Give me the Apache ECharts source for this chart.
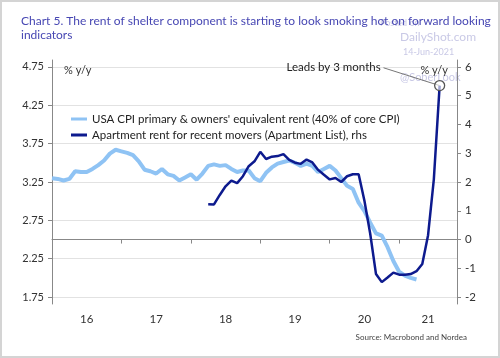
<!DOCTYPE html>
<html><head><meta charset="utf-8">
<script src="https://cdn.jsdelivr.net/npm/echarts@6/dist/echarts.min.js"></script>
<style>html,body{margin:0;padding:0;background:#fff}#c{width:500px;height:358px}</style>
</head><body><div id="c"></div>
<script>
// months since Jan 2016
const startYear = 2016;
const yearTickMonths = [0, 12, 24, 36, 48, 60];
const yearLabelMonths = [6, 18, 30, 42, 54, 65];
const leftTicks = [1.75, 2.25, 2.75, 3.25, 3.75, 4.25, 4.75];
const rightTicks = [-2, -1, 0, 1, 2, 3, 4, 5, 6];

const cpiStart = 0;
const cpiRent = [3.30, 3.29, 3.27, 3.29, 3.39, 3.38, 3.38, 3.42, 3.47, 3.53, 3.62, 3.67,
  3.65, 3.63, 3.60, 3.52, 3.41, 3.39, 3.36, 3.42, 3.35, 3.33, 3.27, 3.31,
  3.35, 3.28, 3.36, 3.46, 3.48, 3.46, 3.47, 3.42, 3.38, 3.40, 3.40, 3.30,
  3.26, 3.37, 3.44, 3.49, 3.51, 3.53, 3.50, 3.46, 3.49, 3.46, 3.38, 3.42,
  3.46, 3.40, 3.30, 3.20, 3.16, 2.98, 2.87, 2.72, 2.58, 2.55, 2.40, 2.22,
  2.08, 2.03, 2.00, 1.98];

const aptStart = 27;
const aptRent = [1.23, 1.22, 1.55, 1.85, 2.05, 1.96, 2.20, 2.55, 2.72,
  3.05, 2.80, 2.88, 2.90, 2.97, 2.77, 2.67, 2.63, 2.78, 2.68, 2.42, 2.25,
  2.09, 2.14, 2.00, 2.20, 2.27, 2.27, 1.35, 0.20, -1.20, -1.48, -1.32, -1.15,
  -1.22, -1.22, -1.20, -1.10, -0.85, 0.15, 2.10, 5.35];

const cpiName = "USA CPI primary & owners' equivalent rent (40% of core CPI)";
const aptName = "Apartment rent for recent movers (Apartment List), rhs";

const cpiData = cpiRent.map((v, i) => [cpiStart + i, v]);
const aptData = aptRent.map((v, i) => [aptStart + i, v]);
const lastApt = aptData[aptData.length - 1];

const FONT = 'Lato';
const chart = echarts.init(document.getElementById('c'), null, {renderer: 'canvas'});
chart.setOption({
  backgroundColor: '#fff',
  animation: false,
  textStyle: {fontFamily: FONT},
  title: [
    {text: 'Chart 5. The rent of shelter component is starting to look smoking hot on forward looking\nindicators',
     left: 16, top: 9, textStyle: {fontFamily: FONT, fontSize: 12, fontWeight: 'normal', color: '#4747b3', lineHeight: 14}},
    {text: 'Source: Macrobond and Nordea', right: 28, top: 328,
     textStyle: {fontFamily: FONT, fontSize: 8, fontWeight: 'normal', color: '#444'}}
  ],
  graphic: [
    {type: 'rect', silent: true, shape: {x: 1, y: 1, width: 498, height: 356},
     style: {fill: 'none', stroke: '#d4d4d4', lineWidth: 2}},
    {type: 'text', left: 380, top: 19, silent: true, style: {text: 'Posted on', fill: '#c9c9e6', font: '9px Lato'}},
    {type: 'text', left: 400, top: 31, silent: true, style: {text: 'DailyShot.com', fill: '#c9c9e6', font: '12px Lato'}},
    {type: 'text', left: 403, top: 48, silent: true, style: {text: '14-Jun-2021', fill: '#c9c9e6', font: '9px Lato'}},
    {type: 'text', left: 400, top: 72, silent: true, z: 0, style: {text: '@SoberLook', fill: '#c9c9e6', font: '11px Lato'}}
  ],
  legend: {
    orient: 'vertical', left: 66, top: 108, itemWidth: 16, itemHeight: 3, itemGap: 4,
    icon: 'rect', textStyle: {fontFamily: FONT, fontSize: 11.5, color: '#222'},
    data: [cpiName, aptName]
  },
  grid: {left: 52, right: 43, top: 60, bottom: 54},
  xAxis: {
    type: 'value', min: 0, max: 70,
    axisLine: {lineStyle: {color: '#888'}},
    axisTick: {show: true, customValues: yearTickMonths, length: 4, lineStyle: {color: '#888'}},
    axisLabel: {customValues: yearLabelMonths, color: '#333', fontSize: 11.5, margin: 9,
      formatter: v => String((startYear + Math.floor(v / 12)) % 100)},
    splitLine: {show: false}
  },
  yAxis: [
    {type: 'value', min: 1.66, max: 4.84, position: 'left',
     name: '% y/y', nameLocation: 'end', nameGap: -16,
     nameTextStyle: {align: 'left', color: '#333', fontSize: 11, padding: [0, 0, 0, 12]},
     axisLine: {show: true, lineStyle: {color: '#888'}},
     axisTick: {show: true, customValues: leftTicks, length: 4, lineStyle: {color: '#888'}},
     axisLabel: {customValues: leftTicks, color: '#333', fontSize: 11, margin: 8, formatter: v => v.toFixed(2)},
     splitLine: {show: true, lineStyle: {color: '#e2e2e2'}}},
    {type: 'value', min: -2.24, max: 6.24, position: 'right',
     name: '% y/y', nameLocation: 'end', nameGap: -16,
     nameTextStyle: {align: 'right', color: '#333', fontSize: 11, padding: [0, 9, 0, 0]},
     axisLine: {show: true, lineStyle: {color: '#888'}},
     axisTick: {show: true, customValues: rightTicks, length: 4, lineStyle: {color: '#888'}},
     axisLabel: {customValues: rightTicks, color: '#333', fontSize: 11.5, margin: 8},
     splitLine: {show: false}}
  ],
  series: [
    {name: cpiName, type: 'line', yAxisIndex: 0, data: cpiData, showSymbol: false, symbol: 'none',
     lineStyle: {color: '#8fc3f4', width: 4}, itemStyle: {color: '#8fc3f4'}, z: 3},
    {name: aptName, type: 'line', yAxisIndex: 1, data: aptData, showSymbol: false, symbol: 'none',
     lineStyle: {color: '#0d1a8e', width: 2.5}, itemStyle: {color: '#0d1a8e'}, z: 4,
     markLine: {silent: true, symbol: ['none', 'none'], animation: false,
       lineStyle: {color: '#777', width: 1, type: 'solid'},
       label: {show: true, position: 'start', formatter: 'Leads by 3 months', color: '#222', fontSize: 11.5, distance: 3},
       data: [[{coord: [57.3, 5.97]}, {coord: lastApt}]]},
     markPoint: {silent: true, symbol: 'circle', symbolSize: 10, animation: false,
       itemStyle: {color: 'rgba(255,255,255,0.6)', borderColor: '#555', borderWidth: 1.3},
       label: {show: false}, data: [{coord: lastApt}]}}
  ]
});
</script></body></html>
